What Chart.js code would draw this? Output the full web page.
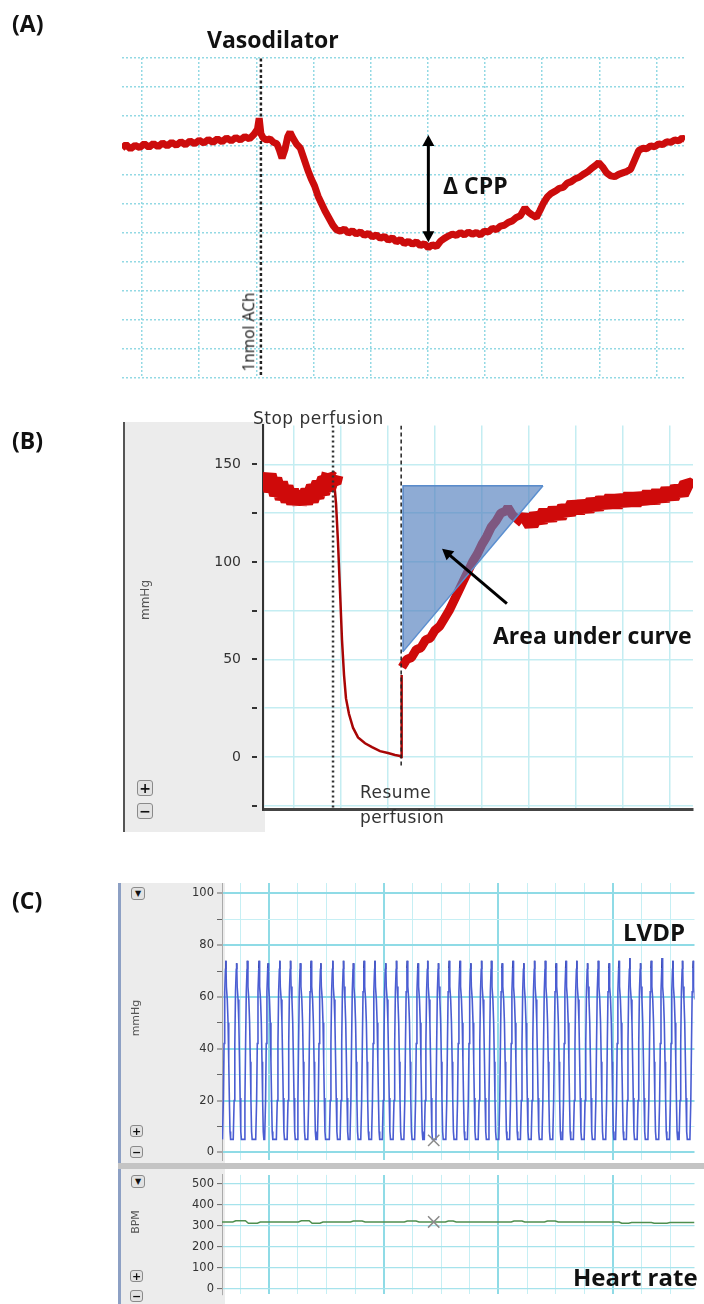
<!DOCTYPE html>
<html>
<head>
<meta charset="utf-8">
<script src="https://cdn.jsdelivr.net/npm/chart.js@4.4.0/dist/chart.umd.min.js"></script>
<style>
  html, body { margin: 0; padding: 0; background: #fff; }
  #page { position: relative; width: 704px; height: 1304px; overflow: hidden; }
  canvas { position: absolute; left: 0; z-index: 1; }
  .bg { position: absolute; z-index: 0; }
  .t { position: absolute; z-index: 2; white-space: nowrap; line-height: 1; transform: translateY(-50%); }
  .bold { font-family: "Open Sans", sans-serif; font-weight: 700; color: #111; font-size: 23px; }
  .soft { font-family: "DejaVu Sans", sans-serif; color: #333; }
  .rot { position: absolute; z-index: 2; white-space: nowrap; line-height: 1; transform: translate(-50%, -50%) rotate(-90deg); }
  .btn { position: absolute; z-index: 2; box-sizing: border-box; border: 1px solid #8a8a8a; border-radius: 3px;
         background: #e2e2e2; font: bold 11px "DejaVu Sans", sans-serif; color: #111; text-align: center; }
</style>
</head>
<body>
<div id="page">
  <!-- panel backgrounds (software side bars) -->
  <div class="bg" style="left:123px;top:422px;width:140px;height:410px;background:#ececec;border-left:2px solid #555;"></div>
  <div class="bg" style="left:118px;top:883px;width:104px;height:421px;background:#ececec;border-left:3px solid #8da0c4;"></div>
  <div class="bg" style="left:118px;top:1163px;width:586px;height:6px;background:#c4c4c4;z-index:3;"></div>

  <canvas id="chartA" width="704" height="395" style="top:0"></canvas>
  <canvas id="chartB" width="704" height="445" style="top:395px"></canvas>
  <canvas id="chartC1" width="704" height="300" style="top:870px"></canvas>
  <canvas id="chartC2" width="704" height="139" style="top:1165px"></canvas>

  <!-- (A) -->
  <div class="t bold" style="left:12px;top:23px;">(A)</div>
  <div class="t bold" style="left:207px;top:39px;">Vasodilator</div>
  <div class="t bold" style="left:443px;top:185px;">Δ CPP</div>
  <div class="rot" style="left:249px;top:332px;font-family:'Open Sans',sans-serif;font-size:15.5px;color:#111;">1nmol ACh</div>

  <!-- (B) -->
  <div class="t bold" style="left:12px;top:440px;">(B)</div>
  <div class="t soft" style="left:253px;top:418px;font-size:17px;letter-spacing:0.5px;">Stop perfusion</div>
  <div class="t soft" style="left:360px;top:792px;font-size:17px;letter-spacing:0.5px;">Resume</div>
  <div class="t soft" style="left:360px;top:817px;font-size:17px;letter-spacing:0.5px;">perfusion</div>
  <div class="t bold" style="left:493px;top:635px;">Area under curve</div>
  <div class="rot soft" style="left:145px;top:600px;font-size:12px;color:#555;">mmHg</div>
  <div class="btn" style="left:137px;top:780px;width:16px;height:16px;line-height:14px;font-size:14px;">+</div>
  <div class="btn" style="left:137px;top:803px;width:16px;height:16px;line-height:14px;font-size:14px;">−</div>

  <!-- (C) -->
  <div class="t bold" style="left:12px;top:900px;">(C)</div>
  <div class="t bold" style="left:623px;top:932px;font-size:24px;">LVDP</div>
  <div class="t bold" style="left:573px;top:1277px;font-size:24px;">Heart rate</div>
  <div class="rot soft" style="left:135px;top:1018px;font-size:11px;color:#555;">mmHg</div>
  <div class="rot soft" style="left:135px;top:1222px;font-size:11px;color:#555;">BPM</div>
  <div class="btn" style="left:131px;top:887px;width:14px;height:13px;line-height:12px;font-size:8px;">▼</div>
  <div class="btn" style="left:130px;top:1125px;width:13px;height:12px;line-height:11px;">+</div>
  <div class="btn" style="left:130px;top:1146px;width:13px;height:12px;line-height:11px;">−</div>
  <div class="btn" style="left:131px;top:1175px;width:14px;height:13px;line-height:12px;font-size:8px;z-index:4;">▼</div>
  <div class="btn" style="left:130px;top:1270px;width:13px;height:12px;line-height:11px;">+</div>
  <div class="btn" style="left:130px;top:1290px;width:13px;height:12px;line-height:11px;">−</div>
</div>

<script>
// ---- (A) coronary perfusion pressure trace (grid units) ----
const aTime = [-0.35,-0.28,-0.20,-0.12,-0.04,0.04,0.12,0.20,0.28,0.36,0.44,0.52,0.60,0.68,0.76,0.84,0.92,1.00,1.08,1.16,
  1.24,1.32,1.40,1.48,1.56,1.64,1.72,1.80,1.88,1.96,2.02,2.05,2.08,2.12,2.18,2.24,2.30,2.36,2.41,2.45,
  2.50,2.55,2.59,2.64,2.70,2.77,2.84,2.90,2.96,3.02,3.08,3.14,3.20,3.27,3.34,3.40,3.47,3.54,3.61,3.68,
  3.75,3.82,3.89,3.96,4.03,4.10,4.17,4.24,4.31,4.38,4.45,4.52,4.59,4.66,4.73,4.80,4.87,4.94,5.01,5.08,
  5.15,5.22,5.29,5.36,5.43,5.50,5.57,5.64,5.71,5.78,5.85,5.92,5.99,6.06,6.13,6.20,6.27,6.34,6.41,6.48,
  6.55,6.62,6.70,6.76,6.83,6.90,6.96,7.02,7.09,7.16,7.23,7.30,7.37,7.44,7.51,7.58,7.65,7.72,7.79,7.86,
  7.93,7.99,8.06,8.13,8.20,8.27,8.34,8.41,8.48,8.55,8.62,8.69,8.76,8.83,8.90,8.97,9.04,9.11,9.18,9.25,
  9.32,9.39,9.45,9.50];
const aPress = [7.90,8.02,7.88,8.00,7.92,8.05,7.93,8.06,7.95,8.08,7.98,8.10,8.00,8.12,8.02,8.15,8.05,8.17,8.08,8.20,
  8.10,8.22,8.12,8.25,8.15,8.27,8.18,8.30,8.22,8.38,8.55,8.93,8.40,8.25,8.18,8.22,8.10,8.05,7.80,7.56,
  7.85,8.30,8.45,8.25,8.05,7.90,7.50,7.15,6.85,6.60,6.25,6.00,5.75,5.50,5.25,5.10,5.05,5.12,4.98,5.06,
  4.95,5.02,4.90,4.97,4.85,4.92,4.80,4.87,4.74,4.82,4.68,4.76,4.62,4.70,4.60,4.68,4.55,4.62,4.48,4.58,
  4.52,4.70,4.80,4.88,4.95,4.90,5.00,4.92,5.02,4.94,5.00,4.92,5.05,5.02,5.15,5.10,5.22,5.25,5.35,5.40,
  5.52,5.58,5.85,5.70,5.60,5.52,5.75,6.00,6.22,6.35,6.42,6.52,6.55,6.70,6.75,6.85,6.90,7.00,7.08,7.20,
  7.30,7.40,7.25,7.05,6.95,6.92,7.00,7.05,7.10,7.18,7.50,7.82,7.90,7.88,7.98,7.95,8.05,8.02,8.12,8.10,
  8.18,8.15,8.25,8.20];
const aGridX = [0, 1, 2, 3, 4, 5, 6, 7, 8, 9];
const aGridY = [0, 1, 2, 3, 4, 5, 6, 7, 8, 9, 10, 11];
const achTime = 2.08;
const cppArrow = [5.01, 8.35, 5.01, 4.67];

// ---- (B) stop / resume perfusion (x in grid units, y in mmHg) ----
const bBaseT = [-0.66,-0.60,-0.54,-0.48,-0.42,-0.36,-0.30,-0.24,-0.18,-0.12,-0.06,0.00,0.06,0.12,0.18,0.24,0.30,0.36,0.42,0.48,0.54,0.60,0.66,0.72,0.78,0.82];
const bBaseP = [141,144,139,142,137,140,135,138,133,136,132,135,131,134,131,135,132,136,134,138,136,140,138,142,141,145];
const bDropT = [0.82,0.85,0.894,0.936,0.979,1.021,1.064,1.106,1.170,1.255,1.362,1.511,1.660,1.830,2.000,2.149,2.255,2.277,2.29];
const bDropP = [146,142,130,110,85,60,42,30,22,15,10,7,5,3,2,1,0.5,0,42];
const bRiseT = [2.298,2.40,2.50,2.60,2.70,2.80,2.90,3.00,3.10,3.20,3.30,3.40,3.50,3.60,3.70,3.80,3.90,4.00,4.10,4.20,4.30,4.40,4.50,4.55,4.65,4.75,4.85];
const bRiseP = [46,50,51,55,56,60,61,65,67,71,75,80,85,90,95,100,104,109,113,118,121,125,126,128,124,122,120];
const bPlatT = [4.85,4.95,5.05,5.15,5.25,5.35,5.45,5.55,5.65,5.75,5.85,5.95,6.05,6.15,6.25,6.35,6.45,6.55,6.65,6.75,
  6.85,6.95,7.05,7.15,7.25,7.35,7.45,7.55,7.65,7.75,7.85,7.95,8.05,8.15,8.25,8.35,8.49];
const bPlatP = [120,123,119,124,121,126,122,127,123,128,125,130,126,130,127,131,128,132,129,133,
  129,133,130,134,130,134,131,135,131,136,132,137,133,138,135,140,138];
const aucT = [2.319, 5.298];
const aucP = [54, 139];
const stopT = 0.83, resumeT = 2.28;
const aucArrow = [4.53, 78.6, 3.15, 106.8];
const bGridX = [0, 1, 2, 3, 4, 5, 6, 7, 8];
const bTicksY = [-25, 0, 25, 50, 75, 100, 125, 150];
const bLabelsY = [0, 50, 100, 150];

// ---- (C) LVDP and heart rate (x in seconds) ----
const beatPeakT = [-0.188,-0.141,-0.094,-0.043,-0.004,0.047,0.094,0.137,0.184,0.226,0.278,0.325,0.368,0.415,0.462,
  0.509,0.556,0.603,0.650,0.692,0.739,0.786,0.833,0.880,0.927,0.970,1.017,1.064,1.111,1.158,1.205,1.252,1.295,
  1.342,1.389,1.436,1.483,1.526,1.573,1.620,1.667,1.714,1.761,1.803,1.850];
const beatPeakP = [74,73,74,74,73,74,74,73,74,73,74,74,73,74,74,73,74,74,73,74,73,74,74,73,74,74,73,74,73,74,
  74,73,74,74,73,74,73,74,75,73,74,75,74,74,74];
const beatShapeDt = [-0.0150,-0.0111,-0.0081,-0.0051,-0.0017,0,0.0021,0.0060,0.0094,0.0124,0.0150,0.0179,0.0205];
const beatShapeP = [5, 20, 42, 62, 71, null, 64, 59, 50, 35, 21, 8, 5];
const hrT = [-0.205,-0.158,-0.145,-0.103,-0.090,-0.051,-0.038,0.128,0.141,0.175,0.188,0.222,0.235,0.355,0.368,0.406,0.419,
  0.590,0.603,0.641,0.654,0.769,0.782,0.803,0.816,1.056,1.068,1.103,1.115,1.201,1.214,1.248,1.261,1.526,1.538,1.568,
  1.581,1.667,1.679,1.735,1.748,1.855];
const hrBpm = [318,318,324,324,312,312,318,318,324,324,312,312,318,318,323,323,318,318,323,323,318,318,323,323,318,
  318,323,323,318,318,323,323,318,318,312,312,316,316,312,312,315,315];
const markerT = 0.718, markerLvdp = 4.6, markerHr = 318;
const cGridX = [-0.125,0,0.125,0.25,0.375,0.5,0.625,0.75,0.875,1,1.125,1.25,1.375,1.5,1.625,1.75];
const lvdpTicksY = [0,5,10,15,20,25,30,35,40,45,50,55,60,65,70,75,80,85,90,95,100];
const hrTicksY = [0,50,100,150,200,250,300,350,400,450,500];

const pts = (xs, ys) => xs.map((x, i) => ({ x, y: ys[i] }));
const fixTicks = arr => scale => { scale.ticks = arr.map(v => ({ value: v })); };
const noPlugins = { legend: { display: false }, tooltip: { enabled: false } };

// arrows drawn through the chart scales
const arrowPlugin = {
  id: 'arrows',
  afterDatasetsDraw(chart, args, opts) {
    const { ctx, scales: { x, y } } = chart;
    (opts.list || []).forEach(a => {
      const x1 = x.getPixelForValue(a.pts[0]), y1 = y.getPixelForValue(a.pts[1]);
      const x2 = x.getPixelForValue(a.pts[2]), y2 = y.getPixelForValue(a.pts[3]);
      const ang = Math.atan2(y2 - y1, x2 - x1);
      const L = 11, W = 6;
      ctx.save();
      ctx.strokeStyle = '#000'; ctx.fillStyle = '#000'; ctx.lineWidth = 3;
      const sx = a.both ? x1 + Math.cos(ang) * L * 0.8 : x1, sy = a.both ? y1 + Math.sin(ang) * L * 0.8 : y1;
      ctx.beginPath();
      ctx.moveTo(sx, sy);
      ctx.lineTo(x2 - Math.cos(ang) * L * 0.8, y2 - Math.sin(ang) * L * 0.8);
      ctx.stroke();
      const head = (hx, hy, th) => {
        ctx.beginPath();
        ctx.moveTo(hx, hy);
        ctx.lineTo(hx - Math.cos(th) * L + Math.sin(th) * W, hy - Math.sin(th) * L - Math.cos(th) * W);
        ctx.lineTo(hx - Math.cos(th) * L - Math.sin(th) * W, hy - Math.sin(th) * L + Math.cos(th) * W);
        ctx.closePath();
        ctx.fill();
      };
      head(x2, y2, ang);
      if (a.both) head(x1, y1, ang + Math.PI);
      ctx.restore();
    });
  }
};

// small detached tick dashes left of the (B) axis
const dashTicks = {
  id: 'dashTicks',
  afterDraw(chart, args, opts) {
    if (!opts.values) return;
    const { ctx, chartArea, scales: { y } } = chart;
    ctx.save();
    ctx.strokeStyle = '#333'; ctx.lineWidth = 2;
    opts.values.forEach(v => {
      const py = Math.round(y.getPixelForValue(v));
      ctx.beginPath();
      ctx.moveTo(chartArea.left - 11, py);
      ctx.lineTo(chartArea.left - 6, py);
      ctx.stroke();
    });
    ctx.restore();
  }
};

Chart.register(arrowPlugin, dashTicks);

// (A)
new Chart(document.getElementById('chartA'), {
  type: 'line',
  data: {
    datasets: [
      { data: pts(aTime, aPress), borderColor: '#cc0c0c', borderWidth: 7, pointRadius: 0, tension: 0, borderJoinStyle: 'bevel' },
      { data: [{ x: achTime, y: 0.1 }, { x: achTime, y: 11 }], borderColor: '#222', borderWidth: 2.5, borderDash: [3, 2.5], pointRadius: 0 }
    ]
  },
  options: {
    responsive: false, animation: false, events: [],
    layout: { padding: { left: 122, right: 19, top: 58, bottom: 17 } },
    plugins: { ...noPlugins, arrows: { list: [{ pts: cppArrow, both: true }] } },
    scales: {
      x: { type: 'linear', min: -0.35, max: 9.5, afterBuildTicks: fixTicks(aGridX), ticks: { display: false },
           grid: { color: '#93d9e4', lineWidth: 1.5, drawTicks: false }, border: { display: false, dash: [2, 2] } },
      y: { type: 'linear', min: 0, max: 11, afterBuildTicks: fixTicks(aGridY), ticks: { display: false },
           grid: { color: '#93d9e4', lineWidth: 1.5, drawTicks: false }, border: { display: false, dash: [2, 2] } }
    }
  }
});

// (B)
const redBand = { borderColor: '#cf0a0a', pointRadius: 0, clip: 0, order: 2, borderJoinStyle: 'bevel', borderCapStyle: 'butt' };
new Chart(document.getElementById('chartB'), {
  type: 'line',
  data: {
    datasets: [
      { data: [{ x: aucT[0], y: aucP[0] }, { x: aucT[1], y: aucP[1] }], fill: { value: aucP[1] },
        backgroundColor: 'rgba(84,128,190,0.66)', borderColor: '#5b8fd0', borderWidth: 1.5, pointRadius: 0, order: 0 },
      { data: [{ x: aucT[1], y: aucP[1] }, { x: aucT[0], y: aucP[1] }, { x: aucT[0], y: aucP[0] }],
        borderColor: '#5b8fd0', borderWidth: 1.5, pointRadius: 0, fill: false, order: 0 },
      { ...redBand, data: pts(bBaseT, bBaseP), borderWidth: 22 },
      { data: pts(bDropT, bDropP), borderColor: '#a80505', borderWidth: 2.5, pointRadius: 0, clip: 0, order: 2 },
      { ...redBand, data: pts(bRiseT, bRiseP), borderWidth: 9 },
      { ...redBand, data: pts(bPlatT, bPlatP), borderWidth: 15 },
      { data: [{ x: stopT, y: 170 }, { x: stopT, y: -27 }], borderColor: '#333', borderWidth: 2.5, borderDash: [2, 3], pointRadius: 0, order: 1 },
      { data: [{ x: resumeT, y: 170 }, { x: resumeT, y: -5 }], borderColor: '#222', borderWidth: 1.5, borderDash: [4, 3], pointRadius: 0, order: 1 }
    ]
  },
  options: {
    responsive: false, animation: false, events: [],
    layout: { padding: { left: 203, right: 11, top: 27, bottom: 12 } },
    plugins: { ...noPlugins, arrows: { list: [{ pts: aucArrow, both: false }] }, dashTicks: { values: bTicksY } },
    scales: {
      x: { type: 'linear', min: -0.66, max: 8.49, afterBuildTicks: fixTicks(bGridX), ticks: { display: false },
           grid: { color: '#c4edf2', lineWidth: 1.5, drawTicks: false }, border: { display: true, color: '#444', width: 3 } },
      y: { type: 'linear', min: -27, max: 170, afterBuildTicks: fixTicks(bTicksY), afterFit: s => { s.width = 60; },
           ticks: { padding: 22, color: '#333', font: { family: 'DejaVu Sans', size: 14 },
                    callback: v => bLabelsY.includes(v) ? String(v) : '' },
           grid: { color: '#c4edf2', lineWidth: 1.5, drawTicks: false }, border: { display: true, color: '#333', width: 2 } }
    }
  }
});

// (C) LVDP
const lvdpPts = [];
beatPeakT.forEach((t, i) => {
  beatShapeDt.forEach((dt, j) => {
    lvdpPts.push({ x: t + dt, y: beatShapeP[j] === null ? beatPeakP[i] : beatShapeP[j] });
  });
});
const isMajorT = v => Math.abs(v * 2 - Math.round(v * 2)) < 1e-6;
const cGridXOpts = {
  color: c => c.tick && isMajorT(c.tick.value) ? '#8fdbe6' : '#c6eff4',
  lineWidth: c => c.tick && isMajorT(c.tick.value) ? 2 : 1,
  drawTicks: false
};
const cTickFont = { family: 'DejaVu Sans', size: 11.5 };

new Chart(document.getElementById('chartC1'), {
  type: 'line',
  data: {
    datasets: [
      { data: [{ x: markerT, y: markerLvdp }], showLine: false, pointStyle: 'crossRot', pointRadius: 8,
        pointBorderColor: '#8a8a8a', pointBorderWidth: 1.5, order: 0 },
      { data: lvdpPts, borderColor: '#4a5dd2', borderWidth: 1.6, pointRadius: 0, tension: 0, order: 1,
        segment: { borderColor: c => (c.p0.parsed.y > 68 && c.p1.parsed.y > 68) ? '#1f2c8c' : undefined } }
    ]
  },
  options: {
    responsive: false, animation: false, events: [],
    layout: { padding: { left: 172, right: 0, top: 13, bottom: 8 } },
    plugins: noPlugins,
    scales: {
      x: { type: 'linear', min: -0.205, max: 1.855, afterBuildTicks: fixTicks(cGridX), ticks: { display: false },
           grid: cGridXOpts, border: { display: false } },
      y: { type: 'linear', min: -3, max: 104, afterBuildTicks: fixTicks(lvdpTicksY), afterFit: s => { s.width = 50; },
           ticks: { padding: 3, color: '#333', font: cTickFont, callback: v => v % 20 === 0 ? String(v) : '' },
           grid: {
             color: c => !c.tick ? '#c6eff4' : c.tick.value % 20 === 0 ? '#8fdbe6' : c.tick.value % 10 === 0 ? '#c6eff4' : 'rgba(0,0,0,0)',
             lineWidth: c => c.tick && c.tick.value % 20 === 0 ? 2 : 1,
             tickColor: '#666', tickLength: 5, tickWidth: 1
           },
           border: { display: true, color: '#aaa', width: 1 } }
    }
  }
});

// (C) heart rate
new Chart(document.getElementById('chartC2'), {
  type: 'line',
  data: {
    datasets: [
      { data: [{ x: markerT, y: markerHr }], showLine: false, pointStyle: 'crossRot', pointRadius: 8,
        pointBorderColor: '#8a8a8a', pointBorderWidth: 1.5, order: 0 },
      { data: pts(hrT, hrBpm), borderColor: '#4f8f4f', borderWidth: 1.5, pointRadius: 0, tension: 0, order: 1 }
    ]
  },
  options: {
    responsive: false, animation: false, events: [],
    layout: { padding: { left: 172, right: 0, top: 5, bottom: 0 } },
    plugins: noPlugins,
    scales: {
      x: { type: 'linear', min: -0.205, max: 1.855, afterBuildTicks: fixTicks(cGridX), ticks: { display: false },
           grid: cGridXOpts, border: { display: false } },
      y: { type: 'linear', min: -25, max: 542, afterBuildTicks: fixTicks(hrTicksY), afterFit: s => { s.width = 50; },
           ticks: { padding: 3, color: '#333', font: cTickFont, callback: v => v % 100 === 0 ? String(v) : '' },
           grid: {
             color: c => c.tick && c.tick.value % 100 === 0 ? '#a6e3ec' : '#d2f2f6',
             lineWidth: 1.2,
             tickColor: c => c.tick && c.tick.value % 100 === 0 ? '#666' : 'rgba(0,0,0,0)',
             tickLength: 5, tickWidth: 1
           },
           border: { display: true, color: '#aaa', width: 1 } }
    }
  }
});
</script>
</body>
</html>
